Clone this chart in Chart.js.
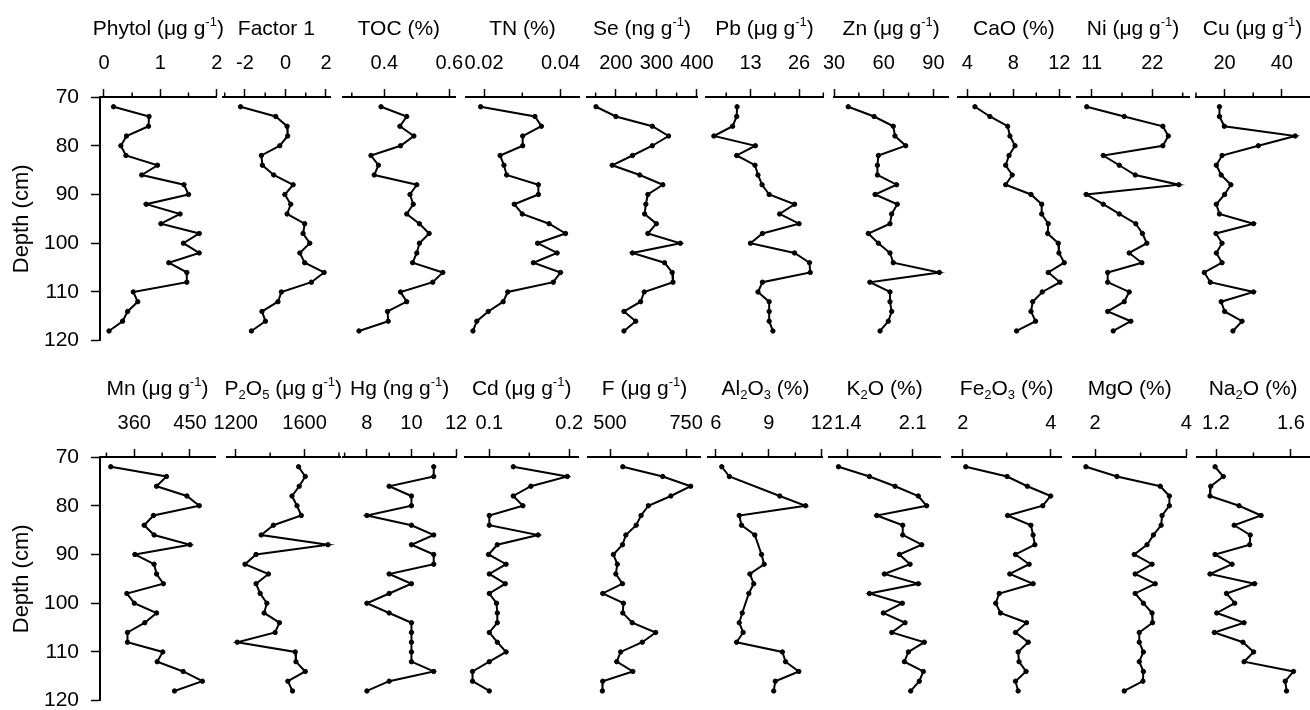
<!DOCTYPE html>
<html>
<head>
<meta charset="utf-8">
<script src="https://cdn.jsdelivr.net/npm/chart.js@4.4.0/dist/chart.umd.min.js"></script>
<style>
  html, body { margin: 0; padding: 0; background: #fff; }
  #wrap { position: relative; width: 1310px; height: 710px; overflow: hidden; background: #fff; }
  #wrap canvas { position: absolute; }
</style>
</head>
<body>
<div id="wrap"></div>
<script>
const FONT = "'Liberation Sans', Arial, sans-serif";

// Profundidades das amostras (cm)
const depths = [72, 74, 76, 78, 80, 82, 84, 86, 88, 90, 92, 94, 96, 98, 100, 102, 104, 106, 108, 110, 112, 114, 116, 118];
const depthsAl2O3 = [72, 74, 78, 80, 82, 84, 86, 90, 92, 94, 96, 98, 102, 104, 106, 108, 110, 112, 114, 116, 118];
const depthTicks = [70, 80, 90, 100, 110, 120];

// Linha de cima
const phytol = [0.17, 0.80, 0.79, 0.40, 0.30, 0.39, 0.95, 0.67, 1.42, 1.50, 0.75, 1.35, 1.01, 1.69, 1.41, 1.69, 1.15, 1.47, 1.47, 0.52, 0.60, 0.42, 0.33, 0.09];
const factor1 = [-2.22, -0.48, 0.08, 0.11, -0.28, -1.19, -1.14, -0.58, 0.38, -0.03, 0.26, 0.08, 0.95, 0.87, 1.20, 0.71, 0.95, 1.91, 1.28, -0.20, -0.37, -1.16, -0.99, -1.68];
const toc = [0.390, 0.469, 0.448, 0.491, 0.450, 0.359, 0.382, 0.369, 0.500, 0.479, 0.489, 0.469, 0.508, 0.538, 0.508, 0.500, 0.487, 0.580, 0.549, 0.450, 0.469, 0.410, 0.412, 0.322];
const tn = [0.0191, 0.0333, 0.0350, 0.0301, 0.0301, 0.0242, 0.0252, 0.0259, 0.0342, 0.0342, 0.0279, 0.0300, 0.0370, 0.0413, 0.0340, 0.0391, 0.0329, 0.0400, 0.0381, 0.0262, 0.0250, 0.0211, 0.0181, 0.0171];
const se = [151, 200, 290, 330, 290, 241, 191, 259, 316, 279, 274, 271, 300, 279, 359, 241, 320, 339, 341, 270, 261, 220, 249, 220];
const pb = [9.4, 9.3, 8.2, 3.2, 14.3, 9.3, 14.2, 15.0, 16.1, 18.0, 24.8, 20.8, 26.0, 16.2, 13.0, 24.8, 28.8, 29.0, 16.2, 15.0, 18.0, 18.0, 18.0, 19.0];
const zn = [38.6, 54.2, 65.8, 66.8, 73.3, 56.8, 56.2, 56.2, 67.8, 54.8, 68.2, 64.8, 63.8, 50.7, 56.8, 63.8, 65.8, 93.6, 51.7, 63.8, 63.8, 64.8, 62.8, 57.8];
const cao = [4.67, 5.97, 7.51, 7.71, 8.15, 7.63, 7.34, 7.91, 7.34, 9.54, 10.47, 10.47, 11.04, 10.99, 11.91, 11.97, 12.43, 11.04, 12.06, 10.52, 9.69, 9.54, 9.94, 8.29];
const ni = [10.1, 16.9, 23.9, 24.9, 23.9, 13.1, 16.0, 18.9, 26.8, 10.0, 13.1, 16.0, 19.0, 20.2, 21.0, 17.8, 20.1, 13.9, 13.9, 17.8, 16.9, 13.9, 18.1, 14.9];
const cu = [18.2, 18.2, 19.9, 44.7, 31.8, 19.1, 17.1, 18.8, 22.2, 20.0, 17.1, 18.2, 30.1, 17.0, 19.1, 17.1, 19.1, 12.9, 15.0, 30.1, 18.8, 20.0, 26.1, 22.9];

// Linha de baixo
const mn = [322, 412, 396, 445, 465, 391, 376, 392, 450, 361, 392, 396, 407, 348, 360, 396, 377, 349, 349, 406, 397, 439, 470, 425];
const p2o5 = [1565, 1604, 1569, 1527, 1556, 1581, 1419, 1348, 1736, 1318, 1254, 1390, 1318, 1342, 1381, 1365, 1454, 1429, 1209, 1546, 1550, 1604, 1503, 1530];
const hg = [11, 11, 9, 10, 10, 8, 10, 11, 10, 11, 11, 9, 10, 9, 8, 9, 10, 10, 10, 10, 10, 11, 9, 8];
const cd = [0.130, 0.1975, 0.152, 0.130, 0.142, 0.100, 0.100, 0.161, 0.110, 0.099, 0.121, 0.100, 0.120, 0.100, 0.109, 0.110, 0.110, 0.100, 0.110, 0.121, 0.100, 0.079, 0.079, 0.100];
const fl = [542, 673, 765, 700, 626, 602, 586, 552, 541, 511, 524, 519, 541, 476, 544, 542, 573, 650, 606, 535, 522, 575, 476, 475];
const al2o3 = [6.34, 6.77, 9.62, 11.08, 7.33, 7.46, 8.21, 8.59, 8.74, 7.93, 8.15, 7.87, 7.50, 7.33, 7.55, 7.18, 9.77, 9.95, 10.70, 9.37, 9.28];
const k2o = [1.299, 1.633, 1.909, 2.160, 2.250, 1.712, 1.992, 1.992, 2.197, 1.956, 2.071, 1.794, 2.160, 1.633, 1.988, 1.783, 2.017, 1.874, 2.225, 2.053, 2.010, 2.214, 2.171, 2.078];
const fe2o3 = [2.07, 3.01, 3.47, 4.00, 3.82, 3.02, 3.55, 3.60, 3.64, 3.20, 3.51, 3.07, 3.60, 2.83, 2.75, 2.86, 3.45, 3.20, 3.49, 3.26, 3.28, 3.44, 3.20, 3.26];
const mgo = [1.80, 2.48, 3.43, 3.63, 3.63, 3.47, 3.45, 3.28, 3.14, 2.86, 3.25, 2.88, 3.32, 2.88, 3.06, 3.25, 3.26, 2.97, 2.97, 3.06, 2.97, 3.06, 3.05, 2.64];
const na2o = [1.195, 1.239, 1.172, 1.168, 1.323, 1.441, 1.297, 1.383, 1.380, 1.195, 1.286, 1.168, 1.406, 1.256, 1.300, 1.204, 1.350, 1.191, 1.344, 1.401, 1.350, 1.614, 1.570, 1.577];

// Ticks principais e secundarios de cada painel
const phytolTicks = [0, 1, 2], phytolMinor = [0.5, 1.5];
const factor1Ticks = [-2, 0, 2], factor1Minor = [-3, -1, 1];
const tocTicks = [0.4, 0.6], tocMinor = [0.3, 0.5];
const tnTicks = [0.02, 0.04], tnMinor = [0.03];
const seTicks = [200, 300, 400], seMinor = [150, 250, 350];
const pbTicks = [13, 26], pbMinor = [6.5, 19.5, 32.5];
const znTicks = [30, 60, 90], znMinor = [45, 75];
const caoTicks = [4, 8, 12], caoMinor = [6, 10];
const niTicks = [11, 22], niMinor = [16.5, 27.5];
const cuTicks = [20, 40], cuMinor = [10, 30];
const mnTicks = [360, 450], mnMinor = [315, 405];
const p2o5Ticks = [1200, 1600], p2o5Minor = [1400, 1800];
const hgTicks = [8, 10, 12], hgMinor = [7, 9, 11];
const cdTicks = [0.1, 0.2], cdMinor = [0.15];
const flTicks = [500, 750], flMinor = [625];
const al2o3Ticks = [6, 9, 12], al2o3Minor = [7.5, 10.5];
const k2oTicks = [1.4, 2.1], k2oMinor = [1.75];
const fe2o3Ticks = [2, 4], fe2o3Minor = [3];
const mgoTicks = [2, 4], mgoMinor = [3];
const na2oTicks = [1.2, 1.6], na2oMinor = [1.4];

// Paineis: eixo x de cada um (posicao em px na figura)
const panels = [
  { title: 'Phytol (μg g^{-1})', x: phytol, d: depths, ticks: phytolTicks, minor: phytolMinor, min: -0.07, max: 2, left: 100, right: 216.7, row: 0, depthAxis: true },
  { title: 'Factor 1', x: factor1, d: depths, ticks: factor1Ticks, minor: factor1Minor, min: -3.1, max: 2.2, left: 222.7, right: 330, row: 0 },
  { title: 'TOC (%)', x: toc, d: depths, ticks: tocTicks, minor: tocMinor, min: 0.272, max: 0.6175, left: 342.7, right: 455, row: 0 },
  { title: 'TN (%)', x: tn, d: depths, ticks: tnTicks, minor: tnMinor, min: 0.0152, max: 0.0449, left: 465.7, right: 579.3, row: 0 },
  { title: 'Se (ng g^{-1})', x: se, d: depths, ticks: seTicks, minor: seMinor, min: 128, max: 401, left: 586.7, right: 697.3, row: 0 },
  { title: 'Pb (μg g^{-1})', x: pb, d: depths, ticks: pbTicks, minor: pbMinor, min: 1, max: 32.5, left: 705.7, right: 823.3, row: 0 },
  { title: 'Zn (μg g^{-1})', x: zn, d: depths, ticks: znTicks, minor: znMinor, min: 30, max: 99, left: 834, right: 948.3, row: 0 },
  { title: 'CaO (%)', x: cao, d: depths, ticks: caoTicks, minor: caoMinor, min: 3.17, max: 12.93, left: 957.7, right: 1070, row: 0 },
  { title: 'Ni (μg g^{-1})', x: ni, d: depths, ticks: niTicks, minor: niMinor, min: 8.28, max: 28.7, left: 1076.7, right: 1189.3, row: 0 },
  { title: 'Cu (μg g^{-1})', x: cu, d: depths, ticks: cuTicks, minor: cuMinor, min: 10, max: 49.5, left: 1196, right: 1309, row: 0 },

  { title: 'Mn (μg g^{-1})', x: mn, d: depths, ticks: mnTicks, minor: mnMinor, min: 304.6, max: 490.4, left: 100, right: 215, row: 1, depthAxis: true },
  { title: 'P_{2}O_{5} (μg g^{-1})', x: p2o5, d: depths, ticks: p2o5Ticks, minor: p2o5Minor, min: 1147.5, max: 1806, left: 226.7, right: 340, row: 1 },
  { title: 'Hg (ng g^{-1})', x: hg, d: depths, ticks: hgTicks, minor: hgMinor, min: 6.94, max: 12, left: 343.3, right: 456, row: 1 },
  { title: 'Cd (μg g^{-1})', x: cd, d: depths, ticks: cdTicks, minor: cdMinor, min: 0.0696, max: 0.2113, left: 465, right: 578.3, row: 1 },
  { title: 'F (μg g^{-1})', x: fl, d: depths, ticks: flTicks, minor: flMinor, min: 428.6, max: 798, left: 588.3, right: 700.7, row: 1 },
  { title: 'Al_{2}O_{3} (%)', x: al2o3, d: depthsAl2O3, ticks: al2o3Ticks, minor: al2o3Minor, min: 5.58, max: 12.05, left: 708.3, right: 822.7, row: 1 },
  { title: 'K_{2}O (%)', x: k2o, d: depths, ticks: k2oTicks, minor: k2oMinor, min: 1.2, max: 2.394, left: 829.3, right: 940, row: 1 },
  { title: 'Fe_{2}O_{3} (%)', x: fe2o3, d: depths, ticks: fe2o3Ticks, minor: fe2o3Minor, min: 1.75, max: 4.25, left: 951.7, right: 1061.7, row: 1 },
  { title: 'MgO (%)', x: mgo, d: depths, ticks: mgoTicks, minor: mgoMinor, min: 1.51, max: 4.01, left: 1072.7, right: 1186.7, row: 1 },
  { title: 'Na_{2}O (%)', x: na2o, d: depths, ticks: na2oTicks, minor: na2oMinor, min: 1.1, max: 1.697, left: 1197.3, right: 1309, row: 1 }
];

const CANVAS_H = 350;
const AXIS_TOP = 97;      // linha do eixo x dentro do canvas
const AXIS_BOTTOM = 340.7; // profundidade 120

// Texto com sub/sobrescrito: _{..} e ^{..}
function drawRich(ctx, text, cx, baseline, size) {
  const parts = [];
  const re = /([_^])\{([^}]*)\}/g;
  let last = 0, m;
  while ((m = re.exec(text))) {
    if (m.index > last) parts.push({ t: text.slice(last, m.index), k: '' });
    parts.push({ t: m[2], k: m[1] });
    last = re.lastIndex;
  }
  if (last < text.length) parts.push({ t: text.slice(last), k: '' });

  const small = Math.round(size * 0.62);
  let total = 0;
  parts.forEach(p => {
    ctx.font = (p.k ? small : size) + 'px ' + FONT;
    p.w = ctx.measureText(p.t).width;
    total += p.w;
  });
  let x = cx - total / 2;
  ctx.textAlign = 'left';
  ctx.textBaseline = 'alphabetic';
  parts.forEach(p => {
    ctx.font = (p.k ? small : size) + 'px ' + FONT;
    let dy = 0;
    if (p.k === '^') dy = -size * 0.4;
    if (p.k === '_') dy = size * 0.2;
    ctx.fillText(p.t, x, baseline + dy);
    x += p.w;
  });
}

// Ticks secundarios e titulo de cada painel
function makeExtras(p) {
  return {
    id: 'extras',
    afterDraw(chart) {
      const ctx = chart.ctx;
      const xs = chart.scales.x;
      const top = chart.chartArea.top;
      ctx.save();
      ctx.strokeStyle = '#000';
      ctx.lineWidth = 1.5;
      p.minor.forEach(v => {
        const px = xs.getPixelForValue(v);
        ctx.beginPath();
        ctx.moveTo(px, top);
        ctx.lineTo(px, top - 4.5);
        ctx.stroke();
      });
      ctx.fillStyle = '#000';
      drawRich(ctx, p.title, (xs.left + xs.right) / 2, 34.5, 21);
      ctx.restore();
    }
  };
}

const wrap = document.getElementById('wrap');

panels.forEach(p => {
  const cLeft = p.depthAxis ? 0 : Math.floor(p.left - 30);
  const cRight = Math.ceil(p.right + 30);
  const padL = p.depthAxis ? 0 : p.left - cLeft;
  const padR = cRight - p.right;

  const canvas = document.createElement('canvas');
  canvas.width = cRight - cLeft;
  canvas.height = CANVAS_H;
  canvas.style.left = cLeft + 'px';
  canvas.style.top = (p.row === 0 ? 0 : 360) + 'px';
  wrap.appendChild(canvas);

  new Chart(canvas.getContext('2d'), {
    type: 'scatter',
    data: {
      datasets: [{
        data: p.d.map((d, k) => ({ x: p.x[k], y: d })),
        showLine: true,
        borderColor: '#000',
        borderWidth: 2,
        pointRadius: 2.2,
        pointBorderWidth: 1,
        pointBackgroundColor: '#000',
        pointBorderColor: '#000',
        tension: 0
      }]
    },
    options: {
      responsive: false,
      animation: false,
      devicePixelRatio: 1,
      events: [],
      layout: { padding: { left: padL, right: padR, top: 0, bottom: CANVAS_H - AXIS_BOTTOM } },
      plugins: {
        legend: { display: false },
        tooltip: { enabled: false }
      },
      scales: {
        x: {
          type: 'linear',
          position: 'top',
          min: p.min,
          max: p.max,
          afterBuildTicks: s => { s.ticks = p.ticks.map(v => ({ value: v })); },
          afterFit: s => { s.height = AXIS_TOP; s.paddingLeft = 0; s.paddingRight = 0; },
          ticks: {
            color: '#000',
            font: { family: FONT, size: 20 },
            padding: 14,
            autoSkip: false,
            maxRotation: 0,
            minRotation: 0,
            callback: v => String(v)
          },
          grid: { drawOnChartArea: false, drawTicks: true, tickLength: 8, tickWidth: 1.5, tickColor: '#000', color: '#000' },
          border: { display: true, color: '#000', width: 2 }
        },
        y: {
          type: 'linear',
          reverse: true,
          min: 70,
          max: 120,
          display: !!p.depthAxis,
          afterBuildTicks: s => { s.ticks = depthTicks.map(v => ({ value: v })); },
          afterFit: s => { if (p.depthAxis) s.width = p.left; s.paddingTop = 0; s.paddingBottom = 0; },
          ticks: {
            color: '#000',
            font: { family: FONT, size: 21 },
            padding: 12,
            callback: v => String(v)
          },
          grid: { drawOnChartArea: false, drawTicks: true, tickLength: 9, tickWidth: 1.5, tickColor: '#000', color: '#000' },
          border: { display: true, color: '#000', width: 2 },
          title: {
            display: true,
            text: 'Depth (cm)',
            color: '#000',
            font: { family: FONT, size: 22 },
            padding: { top: 9, bottom: 0 }
          }
        }
      }
    },
    plugins: [makeExtras(p)]
  });
});
</script>
</body>
</html>
